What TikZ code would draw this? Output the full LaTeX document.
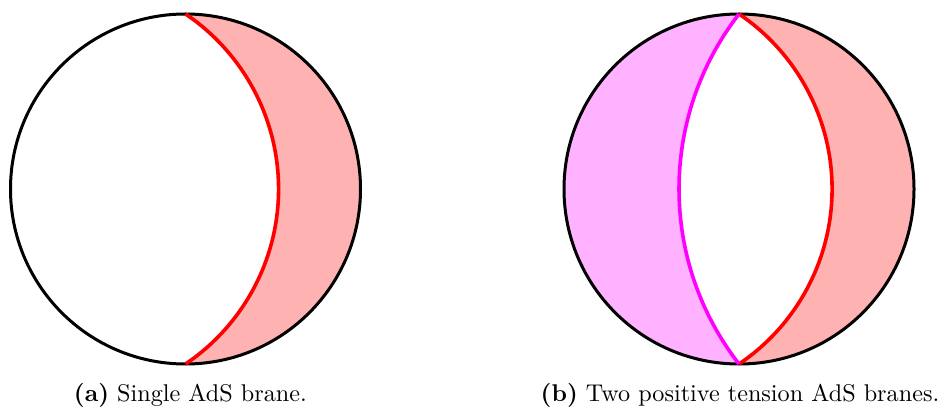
\documentclass[tikz,border=0pt]{standalone}
\definecolor{branemag}{RGB}{255,0,255}
\definecolor{branered}{RGB}{255,0,0}
\begin{document}
\begin{tikzpicture}[x=1pt,y=1pt,
  rim/.style={line width=3pt,black},
  brane/.style={line width=3.6pt},
  captext/.style={anchor=base,inner sep=0pt,font=\fontsize{10}{12}\selectfont,scale=2.42,transform shape}]
\useasboundingbox (0,0) rectangle (941,407);
% (a)
\coordinate (Ta) at (185.5,393);
\coordinate (Ba) at (185.5,43);
\fill[branered!30] (Ta) arc[start angle=90,end angle=-90,radius=175] arc[start angle=-56.01,end angle=56.01,radius=211.07] -- cycle;
\draw[rim] (185.5,218) circle[radius=175];
\draw[brane,branered] (Ba) arc[start angle=-56.01,end angle=56.01,radius=211.07];
% (b)
\coordinate (Tb) at (739,393);
\coordinate (Bb) at (739,43);
\fill[branered!30] (Tb) arc[start angle=90,end angle=-90,radius=175] arc[start angle=-56.01,end angle=56.01,radius=211.07] -- cycle;
\fill[branemag!30] (Tb) arc[start angle=90,end angle=270,radius=175] arc[start angle=217.85,end angle=142.15,radius=285.2] -- cycle;
\draw[rim] (739,218) circle[radius=175];
\draw[brane,branered] (Bb) arc[start angle=-56.01,end angle=56.01,radius=211.07];
\draw[brane,branemag] (Tb) arc[start angle=142.15,end angle=217.85,radius=285.2];
% captions
\node[captext] (ca) at (190.4,6) {\textbf{(a)} Single AdS brane.};
\node[captext] (cb) at (740,6) {\textbf{(b)} Two positive tension AdS branes.};
\end{tikzpicture}
\end{document}
